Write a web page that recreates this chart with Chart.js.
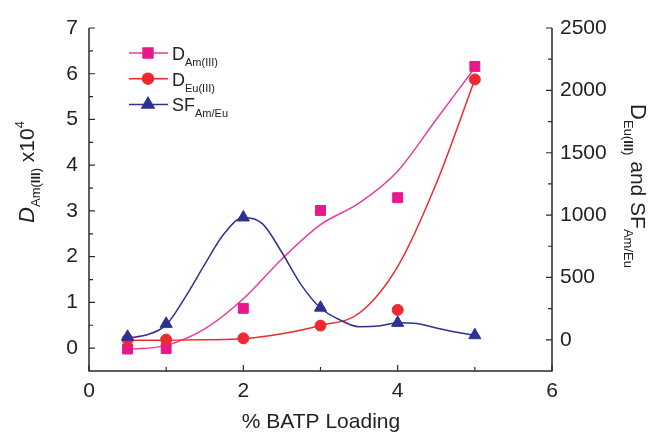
<!DOCTYPE html>
<html>
<head>
<meta charset="utf-8">
<script src="https://cdn.jsdelivr.net/npm/chart.js@4"></script>
<style>
  body { margin: 0; background: #fff; }
  #wrap { width: 654px; height: 436px; }
</style>
</head>
<body>
<div id="wrap"><canvas id="graphicFirst" width="654" height="436"></canvas></div>
<script>
// BATP loading vs distribution ratios (D Am, D Eu) and separation factor

//---DATA (measured points)
const loading = [0.5, 1, 2, 3, 4, 5];
const dAm = [-0.02, -0.01, 0.87, 3.01, 3.29, 6.16];      // x10^4, left axis
const dEu = [3, 2, 12, 114, 240, 2088];                   // right axis
const sfAmEu = [24, 128, 981, 258, 136, 37];              // right axis

//---DATA (fitted curves)
const fitX = [0.5, 1, 1.5, 2, 2.5, 3, 3.5, 4, 4.5, 5];
const dAmFit = [-0.03, 0.06, 0.42, 1.08, 1.95, 2.70, 3.17, 3.87, 5.0, 6.13];
const dEuFit = [-5, -3, 0, 8, 48, 114, 213, 587, 1253, 2088];
const sfFitX = [0.5, 0.75, 1, 1.25, 1.5, 1.75, 2, 2.25, 2.5, 2.75, 3, 3.25, 3.5, 3.75, 4, 4.25, 4.5, 4.75, 5];
const sfFit = [15, 40, 120, 345, 605, 850, 980, 930, 700, 440, 255, 160, 105, 110, 137, 130, 95, 62, 35];

//---TICKS
const xTicks = [0, 2, 4, 6];
const leftTicks = [0, 1, 2, 3, 4, 5, 6, 7];
const rightTicks = [0, 500, 1000, 1500, 2000, 2500];

//---COLORS
const pink = '#e8178c';
const pinkLine = '#ec3c9e';
const red = '#ee2a2f';
const blue = '#2e3192';
const axisColor = '#2a2a2a';
const FONT = '"Liberation Sans", Arial, sans-serif';

function pts(xs, ys){
  return xs.map((x, i) => ({x: x, y: ys[i]}));
}

//---AXES: spines and inward ticks
const axesPlugin = {
  id: 'axesPlugin',
  afterDatasetsDraw(chart){
    const ctx = chart.ctx;
    const a = chart.chartArea;
    const sx = chart.scales.x, sl = chart.scales.yL, sr = chart.scales.yR;
    ctx.save();
    ctx.strokeStyle = axisColor;
    ctx.lineWidth = 1.5;
    ctx.beginPath();
    ctx.moveTo(a.left, a.top);
    ctx.lineTo(a.left, a.bottom);
    ctx.lineTo(a.right, a.bottom);
    ctx.lineTo(a.right, a.top);
    ctx.stroke();
    ctx.lineWidth = 1.2;
    ctx.beginPath();
    for (let v = 0; v <= 6; v += 1){
      const p = sx.getPixelForValue(v);
      const len = (v % 2 === 0) ? 6 : 4;
      ctx.moveTo(p, a.bottom); ctx.lineTo(p, a.bottom - len);
    }
    for (let v = 0; v <= 7; v += 0.5){
      const p = sl.getPixelForValue(v);
      const len = (v % 1 === 0) ? 6 : 4;
      ctx.moveTo(a.left, p); ctx.lineTo(a.left + len, p);
    }
    for (let v = 0; v <= 2500; v += 250){
      const p = sr.getPixelForValue(v);
      const len = (v % 500 === 0) ? 6 : 4;
      ctx.moveTo(a.right, p); ctx.lineTo(a.right - len, p);
    }
    ctx.stroke();
    ctx.restore();
  }
};

// draws a list of [text, font, dy] runs from (x,y) along the baseline
function drawRuns(ctx, runs, x, y){
  let cx = x;
  runs.forEach(r => {
    ctx.font = r[1];
    ctx.fillText(r[0], cx, y + r[2]);
    cx += ctx.measureText(r[0]).width;
  });
  return cx - x;
}
function runsWidth(ctx, runs){
  let w = 0;
  runs.forEach(r => { ctx.font = r[1]; w += ctx.measureText(r[0]).width; });
  return w;
}

//---TITLES & LEGEND
const textPlugin = {
  id: 'textPlugin',
  afterDraw(chart){
    const ctx = chart.ctx;
    ctx.save();
    ctx.fillStyle = '#222';
    ctx.textBaseline = 'alphabetic';
    ctx.textAlign = 'left';

    // x title
    ctx.font = '21px ' + FONT;
    ctx.textAlign = 'center';
    ctx.fillText('% BATP Loading', 321, 428);
    ctx.textAlign = 'left';

    // left title (rotated)
    const leftRuns = [
      ['D', 'italic 22px ' + FONT, 0],
      ['Am(', '13px ' + FONT, 6],
      ['III', 'bold 13px ' + FONT, 6],
      [')', '13px ' + FONT, 6],
      [' x10', '21px ' + FONT, 0],
      ['4', '13px ' + FONT, -10]
    ];
    ctx.save();
    ctx.translate(34, 172);
    ctx.rotate(-Math.PI / 2);
    drawRuns(ctx, leftRuns, -runsWidth(ctx, leftRuns) / 2, 0);
    ctx.restore();

    // right title (rotated clockwise)
    const rightRuns = [
      ['D', '22px ' + FONT, 0],
      ['Eu(', '13px ' + FONT, 7],
      ['III', 'bold 13px ' + FONT, 7],
      [')', '13px ' + FONT, 7],
      [' and SF', '21px ' + FONT, 0],
      ['Am/Eu', '13px ' + FONT, 7]
    ];
    ctx.save();
    ctx.translate(631, 186);
    ctx.rotate(Math.PI / 2);
    drawRuns(ctx, rightRuns, -runsWidth(ctx, rightRuns) / 2, 0);
    ctx.restore();

    // legend
    const items = [
      {line: pinkLine, fill: pink, style: 'rect', r: 7, sub: 'Am(III)', main: 'D'},
      {line: red, fill: red, style: 'circle', r: 5.5, sub: 'Eu(III)', main: 'D'},
      {line: blue, fill: blue, style: 'triangle', r: 7, sub: 'Am/Eu', main: 'SF'}
    ];
    items.forEach((it, i) => {
      const y = 53 + i * 25.7;
      ctx.strokeStyle = it.line;
      ctx.lineWidth = 1.5;
      ctx.beginPath();
      ctx.moveTo(129, y); ctx.lineTo(168, y);
      ctx.stroke();
      ctx.fillStyle = it.fill;
      ctx.strokeStyle = it.fill;
      Chart.helpers.drawPoint(ctx, {pointStyle: it.style, radius: it.r, borderWidth: 1, rotation: 0}, 148, y);
      ctx.fill();
      ctx.fillStyle = '#222';
      drawRuns(ctx, [[it.main, '18px ' + FONT, 0], [it.sub, '11px ' + FONT, 6]], 172, y + 7);
    });
    ctx.restore();
  }
};

//---CHART
const ctx = document.getElementById('graphicFirst').getContext('2d');
const markerBase = {type: 'scatter', showLine: false, pointBorderWidth: 1};
const lineBase = {type: 'line', showLine: true, pointRadius: 0, borderWidth: 1.5,
  cubicInterpolationMode: 'monotone', fill: false};

const chart1 = new Chart(ctx, {
  type: 'scatter',
  data: {
    datasets: [
      Object.assign({}, markerBase, {label: 'SF Am/Eu', data: pts(loading, sfAmEu), yAxisID: 'yR',
        pointStyle: 'triangle', pointRadius: 7, backgroundColor: blue, borderColor: blue}),
      Object.assign({}, markerBase, {label: 'D Eu(III)', data: pts(loading, dEu), yAxisID: 'yR',
        pointStyle: 'circle', pointRadius: 5.5, backgroundColor: red, borderColor: red}),
      Object.assign({}, markerBase, {label: 'D Am(III)', data: pts(loading, dAm), yAxisID: 'yL',
        pointStyle: 'rect', pointRadius: 7, backgroundColor: pink, borderColor: pink}),
      Object.assign({}, lineBase, {label: 'SF fit', data: pts(sfFitX, sfFit), yAxisID: 'yR', borderColor: blue}),
      Object.assign({}, lineBase, {label: 'D Eu fit', data: pts(fitX, dEuFit), yAxisID: 'yR', borderColor: red}),
      Object.assign({}, lineBase, {label: 'D Am fit', data: pts(fitX, dAmFit), yAxisID: 'yL', borderColor: pinkLine})
    ]
  },
  plugins: [axesPlugin, textPlugin],
  options: {
    responsive: false,
    animation: false,
    layout: {padding: {top: 28, left: 0, right: 0, bottom: 0}},
    plugins: {legend: {display: false}, tooltip: {enabled: false}},
    scales: {
      x: {
        type: 'linear', min: 0, max: 6,
        grid: {display: false, drawTicks: false}, border: {display: false},
        afterBuildTicks: s => { s.ticks = xTicks.map(v => ({value: v})); },
        afterFit: s => { s.height = 65; },
        ticks: {padding: 8, color: '#222', font: {family: FONT, size: 21}, callback: v => String(v)}
      },
      yL: {
        type: 'linear', position: 'left', min: -0.5, max: 7,
        grid: {display: false, drawTicks: false}, border: {display: false},
        afterBuildTicks: s => { s.ticks = leftTicks.map(v => ({value: v})); },
        afterFit: s => { s.width = 89; },
        ticks: {padding: 11, color: '#222', font: {family: FONT, size: 21}, callback: v => String(v)}
      },
      yR: {
        type: 'linear', position: 'right', min: -250, max: 2500,
        grid: {display: false, drawTicks: false}, border: {display: false},
        afterBuildTicks: s => { s.ticks = rightTicks.map(v => ({value: v})); },
        afterFit: s => { s.width = 102; },
        ticks: {padding: 8, color: '#222', font: {family: FONT, size: 21}, callback: v => String(v)}
      }
    }
  }
});
</script>
</body>
</html>
